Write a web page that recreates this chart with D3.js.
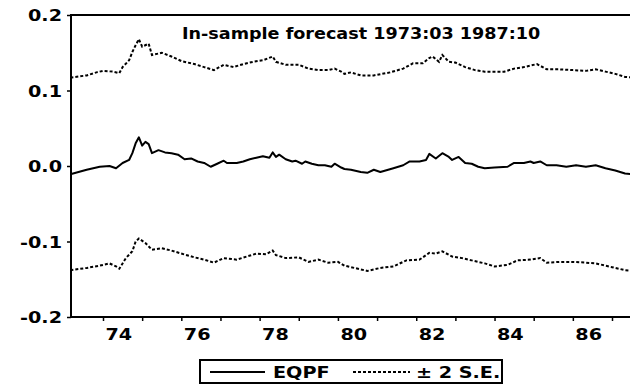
<!DOCTYPE html>
<html>
<head>
<meta charset="utf-8">
<script src="https://cdn.jsdelivr.net/npm/d3@7"></script>
<style>
  body { margin: 0; background: #fff; }
  svg { display: block; font-family: "DejaVu Sans", sans-serif; font-weight: bold; }
</style>
</head>
<body>
<script>
// values, EViews style dates (year:month)
var eqpfDates = [
  "1973:03", "1973:08", "1973:12",
  "1974:03", "1974:05", "1974:07", "1974:09", "1974:10", "1974:11", "1974:12",
  "1975:01", "1975:02", "1975:03", "1975:04", "1975:06", "1975:08", "1975:10", "1975:12",
  "1976:02", "1976:04", "1976:06", "1976:08", "1976:10", "1976:12",
  "1977:02", "1977:03", "1977:06", "1977:08", "1977:10", "1977:12",
  "1978:02", "1978:04", "1978:05", "1978:06", "1978:07", "1978:09", "1978:11", "1978:12",
  "1979:02", "1979:03", "1979:05", "1979:07", "1979:09", "1979:11", "1979:12",
  "1980:02", "1980:03", "1980:05", "1980:08", "1980:10", "1980:12",
  "1981:02", "1981:06", "1981:09", "1981:11",
  "1982:02", "1982:04", "1982:05", "1982:07", "1982:09", "1982:11", "1982:12",
  "1983:02", "1983:04", "1983:06", "1983:08", "1983:10",
  "1984:01", "1984:05", "1984:07", "1984:10", "1984:12",
  "1985:01", "1985:03", "1985:05", "1985:08", "1985:11",
  "1986:02", "1986:05", "1986:08", "1986:11",
  "1987:02", "1987:05", "1987:08", "1987:10"
];
var eqpfValues = [
  -0.011, -0.005, -0.001,
  0.000, -0.003, 0.004, 0.008, 0.017, 0.030, 0.038,
  0.027, 0.032, 0.029, 0.017, 0.021, 0.018, 0.017, 0.015,
  0.009, 0.010, 0.006, 0.004, -0.001, 0.003,
  0.007, 0.004, 0.004, 0.006, 0.009, 0.011,
  0.013, 0.011, 0.018, 0.012, 0.015, 0.009, 0.006, 0.007,
  0.003, 0.006, 0.003, 0.001, 0.001, -0.001, 0.003,
  -0.002, -0.004, -0.005, -0.008, -0.009, -0.005,
  -0.008, -0.003, 0.001, 0.006,
  0.006, 0.008, 0.016, 0.010, 0.017, 0.012, 0.008,
  0.012, 0.004, 0.003, -0.001, -0.003,
  -0.002, -0.001, 0.004, 0.004, 0.006,
  0.004, 0.006, 0.001, 0.001, -0.001,
  0.001, -0.001, 0.001, -0.003,
  -0.006, -0.010, -0.011, -0.012
];

var upperDates = [
  "1973:03", "1973:08", "1973:11",
  "1974:01", "1974:04", "1974:06", "1974:07", "1974:09", "1974:10", "1974:11", "1974:12",
  "1975:01", "1975:03", "1975:04", "1975:07", "1975:10",
  "1976:01", "1976:05", "1976:08", "1976:11",
  "1977:02", "1977:05", "1977:08", "1977:11",
  "1978:02", "1978:05", "1978:06", "1978:09",
  "1979:01", "1979:04", "1979:07", "1979:10", "1979:12",
  "1980:02", "1980:03", "1980:05", "1980:08", "1980:12",
  "1981:05", "1981:09", "1981:12",
  "1982:03", "1982:05", "1982:06", "1982:08", "1982:09", "1982:11",
  "1983:01", "1983:04", "1983:07", "1983:10",
  "1984:01", "1984:04", "1984:07", "1984:10", "1984:12",
  "1985:02", "1985:05", "1985:09",
  "1986:01", "1986:05", "1986:08", "1986:11",
  "1987:02", "1987:05", "1987:08", "1987:10"
];
var upperValues = [
  0.117, 0.120, 0.124,
  0.126, 0.125, 0.123, 0.131, 0.140, 0.151, 0.160, 0.168,
  0.158, 0.162, 0.147, 0.150, 0.145,
  0.139, 0.135, 0.131, 0.127,
  0.134, 0.131, 0.135, 0.138,
  0.140, 0.145, 0.138, 0.134,
  0.134, 0.129, 0.127, 0.127, 0.129,
  0.125, 0.122, 0.124, 0.120, 0.120,
  0.124, 0.129, 0.136,
  0.136, 0.143, 0.145, 0.138, 0.147, 0.138,
  0.137, 0.131, 0.127, 0.125,
  0.125, 0.125, 0.129, 0.131, 0.133,
  0.135, 0.128, 0.128,
  0.127, 0.126, 0.128, 0.125,
  0.122, 0.118, 0.117, 0.116
];

var lowerDates = [
  "1973:03", "1973:08", "1973:12",
  "1974:03", "1974:05", "1974:06", "1974:08", "1974:10", "1974:11", "1974:12",
  "1975:02", "1975:04", "1975:07", "1975:10",
  "1976:01", "1976:05", "1976:08", "1976:11",
  "1977:02", "1977:06", "1977:09", "1977:12",
  "1978:03", "1978:05", "1978:06", "1978:09",
  "1979:01", "1979:04", "1979:07", "1979:10",
  "1980:01", "1980:03", "1980:06", "1980:10",
  "1981:02", "1981:06", "1981:10",
  "1982:02", "1982:05", "1982:07", "1982:09", "1982:12",
  "1983:03", "1983:06", "1983:10",
  "1984:01", "1984:05", "1984:08", "1984:12",
  "1985:03", "1985:05", "1985:09",
  "1986:01", "1986:05", "1986:08",
  "1987:01", "1987:05", "1987:08", "1987:10"
];
var lowerValues = [
  -0.138, -0.135, -0.132,
  -0.129, -0.133, -0.136, -0.122, -0.113, -0.100, -0.096,
  -0.102, -0.111, -0.109, -0.112,
  -0.116, -0.121, -0.124, -0.128,
  -0.122, -0.124, -0.120, -0.116,
  -0.117, -0.112, -0.118, -0.122,
  -0.121, -0.127, -0.124, -0.128,
  -0.127, -0.132, -0.135, -0.139,
  -0.135, -0.133, -0.125,
  -0.124, -0.115, -0.116, -0.113, -0.120,
  -0.122, -0.125, -0.129,
  -0.133, -0.131, -0.125, -0.124,
  -0.122, -0.128, -0.127,
  -0.127, -0.128, -0.129,
  -0.134, -0.138, -0.139, -0.140
];

var yTicks = [-0.2, -0.1, 0.0, 0.1, 0.2];
var yearTicks = [1974, 1975, 1976, 1977, 1978, 1979, 1980, 1981, 1982, 1983, 1984, 1985, 1986, 1987];
var yearLabels = [1974, 1976, 1978, 1980, 1982, 1984, 1986];
var titleText = "In-sample forecast 1973:03 1987:10";
var legendNames = ["EQPF", "\u00b1 2 S.E."];

// page size
var width = 630,
  height = 387;

// the old EViews font is wider than DejaVu, so stretch the text a bit
var stretch = 1.2;

var svg = d3.select("body").append("svg")
  .attr("width", width)
  .attr("height", height);

// "1975:04" -> 1975.25
function parseDate(s) {
  var parts = s.split(":");
  return +parts[0] + (+parts[1] - 1) / 12;
}

function makeSeries(dates, values) {
  return dates.map(function(d, i) {
    return { t: parseDate(d), v: values[i] };
  });
}

var eqpf = makeSeries(eqpfDates, eqpfValues);
var upper = makeSeries(upperDates, upperValues);
var lower = makeSeries(lowerDates, lowerValues);

// scales (the plot runs off the right side of the picture)
var x = d3.scaleLinear()
  .domain([1974, 1987])
  .range([103, 612]);

var y = d3.scaleLinear()
  .domain([-0.2, 0.2])
  .range([317, 15]);

var left = 71,
  right = x(parseDate("1987:10"));

// bottom axis: a tick each year, a label every second year
var xAxis = d3.axisBottom(x)
  .tickValues(yearTicks)
  .tickSize(4)
  .tickSizeOuter(0)
  .tickFormat(function(d) {
    return yearLabels.indexOf(d) >= 0 ? String(d).slice(2) : "";
  });

var gx = svg.append("g")
  .attr("transform", "translate(0," + y(-0.2) + ")")
  .call(xAxis);

gx.select(".domain").remove();
gx.selectAll(".tick line").attr("stroke", "#000").attr("stroke-width", 1.5);
gx.selectAll(".tick text")
  .attr("font-family", "DejaVu Sans, sans-serif")
  .attr("font-weight", "bold")
  .attr("font-size", 16)
  .attr("fill", "#000")
  .attr("text-anchor", "start")
  .attr("dy", null)
  .attr("y", 23)
  .attr("x", 2 / stretch)
  .attr("transform", "scale(" + stretch + ",1)");

// left axis
var yAxis = d3.axisLeft(y)
  .tickValues(yTicks)
  .tickSize(4)
  .tickSizeOuter(0)
  .tickFormat(function(d) {
    return d.toFixed(1);
  });

var gy = svg.append("g")
  .attr("transform", "translate(" + left + ",0)")
  .call(yAxis);

gy.select(".domain").remove();
gy.selectAll(".tick line").attr("stroke", "#000").attr("stroke-width", 1.5);
gy.selectAll(".tick text")
  .attr("font-family", "DejaVu Sans, sans-serif")
  .attr("font-weight", "bold")
  .attr("font-size", 16)
  .attr("fill", "#000")
  .attr("x", -9 / stretch)
  .attr("dy", "0.36em")
  .attr("transform", "scale(" + stretch + ",1)");

// frame
svg.append("rect")
  .attr("x", left)
  .attr("y", y(0.2))
  .attr("width", right - left)
  .attr("height", y(-0.2) - y(0.2))
  .attr("fill", "none")
  .attr("stroke", "#000")
  .attr("stroke-width", 2);

// lines
var line = d3.line()
  .x(function(d) { return x(d.t); })
  .y(function(d) { return y(d.v); });

svg.append("path")
  .datum(upper)
  .attr("class", "band")
  .attr("d", line);

svg.append("path")
  .datum(lower)
  .attr("class", "band")
  .attr("d", line);

svg.selectAll(".band")
  .attr("fill", "none")
  .attr("stroke", "#000")
  .attr("stroke-width", 2)
  .attr("stroke-dasharray", "3,2");

svg.append("path")
  .datum(eqpf)
  .attr("fill", "none")
  .attr("stroke", "#000")
  .attr("stroke-width", 2)
  .attr("stroke-linejoin", "round")
  .attr("d", line);

// title inside the plot
svg.append("text")
  .attr("x", 182 / 1.1)
  .attr("y", 39)
  .attr("font-size", 16)
  .attr("transform", "scale(1.1,1)")
  .text(titleText);

// legend below the plot
var legend = svg.append("g");

legend.append("rect")
  .attr("x", 200)
  .attr("y", 360)
  .attr("width", 302)
  .attr("height", 23)
  .attr("fill", "#fff")
  .attr("stroke", "#000")
  .attr("stroke-width", 2);

legend.append("line")
  .attr("x1", 210).attr("x2", 265)
  .attr("y1", 372).attr("y2", 372)
  .attr("stroke", "#000")
  .attr("stroke-width", 2);

legend.append("line")
  .attr("x1", 353).attr("x2", 410)
  .attr("y1", 372).attr("y2", 372)
  .attr("stroke", "#000")
  .attr("stroke-width", 2)
  .attr("stroke-dasharray", "3,2");

legend.append("text")
  .attr("x", 273 / stretch)
  .attr("y", 378)
  .attr("font-size", 16)
  .attr("transform", "scale(" + stretch + ",1)")
  .text(legendNames[0]);

legend.append("text")
  .attr("x", 416 / stretch)
  .attr("y", 378)
  .attr("font-size", 16)
  .attr("transform", "scale(" + stretch + ",1)")
  .text(legendNames[1]);
</script>
</body>
</html>
